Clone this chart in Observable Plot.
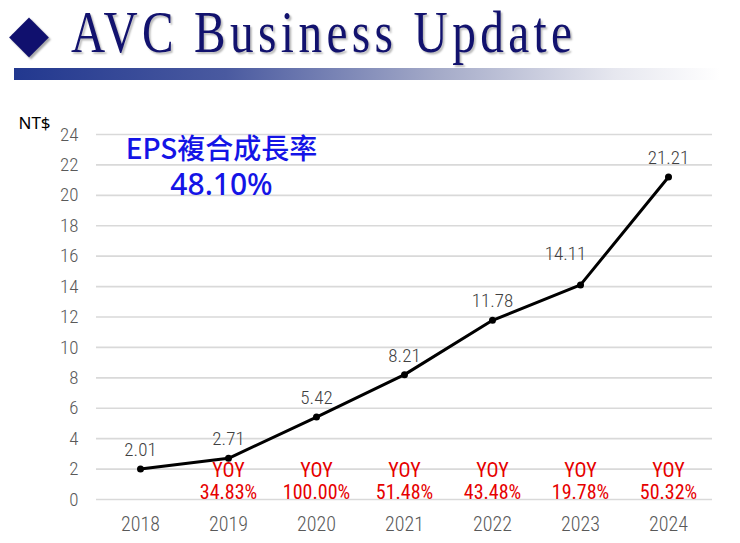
<!DOCTYPE html>
<html>
<head>
<meta charset="utf-8">
<script src="https://cdn.jsdelivr.net/npm/d3@7"></script>
<script src="https://cdn.jsdelivr.net/npm/@observablehq/plot@0.6"></script>
<style>
  html, body { margin: 0; padding: 0; background: #fff; }
  body { width: 740px; height: 543px; position: relative; overflow: hidden; }
  #diamond { position: absolute; left: 9px; top: 0px; font-size: 52px; color: #10106e; font-family: "DejaVu Sans"; text-shadow: 2px 2px 2px #aaa; line-height: 66px; }
  #title { position: absolute; left: 71px; top: 2px; font-family: "Liberation Serif", "DejaVu Serif", serif; font-size: 54px; color: #12126e; line-height: 54px; transform-origin: 0 0; transform: scale(0.876, 1.1); letter-spacing: 5px; white-space: nowrap; text-shadow: 2px 2px 2px #bbb; }
  #bar { position: absolute; left: 14px; top: 68px; width: 706px; height: 12px; background: linear-gradient(to right, #22388f 0%, #4a5aa0 30%, #a4aac8 60%, #e6e7ef 85%, #ffffff 100%); }
  #chart { position: absolute; left: 0; top: 100px; }
</style>
</head>
<body>
<div id="diamond">◆</div>
<div id="title">AVC Business Update</div>
<div id="bar"></div>
<div id="chart"></div>
<script>
const years = [2018, 2019, 2020, 2021, 2022, 2023, 2024];
const eps = [2.01, 2.71, 5.42, 8.21, 11.78, 14.11, 21.21];
const epsLabels = ["2.01", "2.71", "5.42", "8.21", "11.78", "14.11", "21.21"];
const yoyYears = [2019, 2020, 2021, 2022, 2023, 2024];
const yoyLabels = ["34.83%", "100.00%", "51.48%", "43.48%", "19.78%", "50.32%"];
const yTicks = [0, 2, 4, 6, 8, 10, 12, 14, 16, 18, 20, 22, 24];
const cagrTitle = "EPS複合成長率";
const cagrValue = "48.10%";
const unitLabel = "NT$";

const data = years.map((y, i) => ({year: y, eps: eps[i], label: epsLabels[i]}));
const yoy = yoyYears.map((y, i) => ({year: y, label: yoyLabels[i]}));
const narrow = "'Roboto Condensed', 'Open Sans', sans-serif";

const chart = Plot.plot({
  width: 740,
  height: 443,
  marginLeft: 96,
  marginRight: 28,
  marginTop: 34,
  marginBottom: 44,
  style: {fontFamily: narrow, fontSize: "19px", fontWeight: 300, background: "transparent"},
  x: {domain: [2017.5, 2024.5], label: null},
  y: {domain: [0, 24], label: null},
  marks: [
    Plot.gridY(yTicks, {stroke: "#d9d9d9", strokeOpacity: 1, strokeWidth: 1.6}),
    Plot.axisY(yTicks, {tickSize: 0, tickPadding: 18, fill: "#595959", fontSize: 19, fontWeight: 300, label: null}),
    Plot.axisX(years, {tickSize: 0, tickPadding: 17, fill: "#595959", fontSize: 20, fontWeight: 300, tickFormat: d => String(d), label: null}),
    Plot.line(data, {x: "year", y: "eps", stroke: "#000", strokeWidth: 3}),
    Plot.dot(data, {x: "year", y: "eps", r: 3.5, fill: "#000"}),
    Plot.text(data.filter(d => d.year !== 2023), {x: "year", y: "eps", text: "label", dy: -19, fill: "#404040", fontSize: 19, fontWeight: 300}),
    Plot.text(data.filter(d => d.year === 2023), {x: "year", y: "eps", text: "label", dy: -31, dx: -15, fill: "#404040", fontSize: 19, fontWeight: 300}),
    Plot.text(yoy, {x: "year", y: 0, text: () => "YOY", dy: -29, fill: "#e60000", fontSize: 20, fontWeight: 400}),
    Plot.text(yoy, {x: "year", y: 0, text: "label", dy: -7, fill: "#e60000", fontSize: 20, fontWeight: 400}),
    Plot.text([cagrTitle], {frameAnchor: "top-left", dx: 125, dy: 16, textAnchor: "middle", lineAnchor: "middle", text: d => d, fill: "#1414e6", fontSize: 28, fontWeight: 500, fontFamily: "'Noto Sans CJK TC', 'Noto Sans', sans-serif"}),
    Plot.text([cagrValue], {frameAnchor: "top-left", dx: 125, dy: 51, textAnchor: "middle", lineAnchor: "middle", text: d => d, fill: "#1414e6", fontSize: 30, fontWeight: 500, fontFamily: "'Noto Sans', sans-serif"}),
    Plot.text([unitLabel], {frameAnchor: "top-left", dx: -78, dy: -11, textAnchor: "start", lineAnchor: "middle", text: d => d, fill: "#000", fontSize: 17, fontWeight: 400, fontFamily: "'Noto Sans', sans-serif"})
  ]
});
document.getElementById("chart").appendChild(chart);
</script>
</body>
</html>
